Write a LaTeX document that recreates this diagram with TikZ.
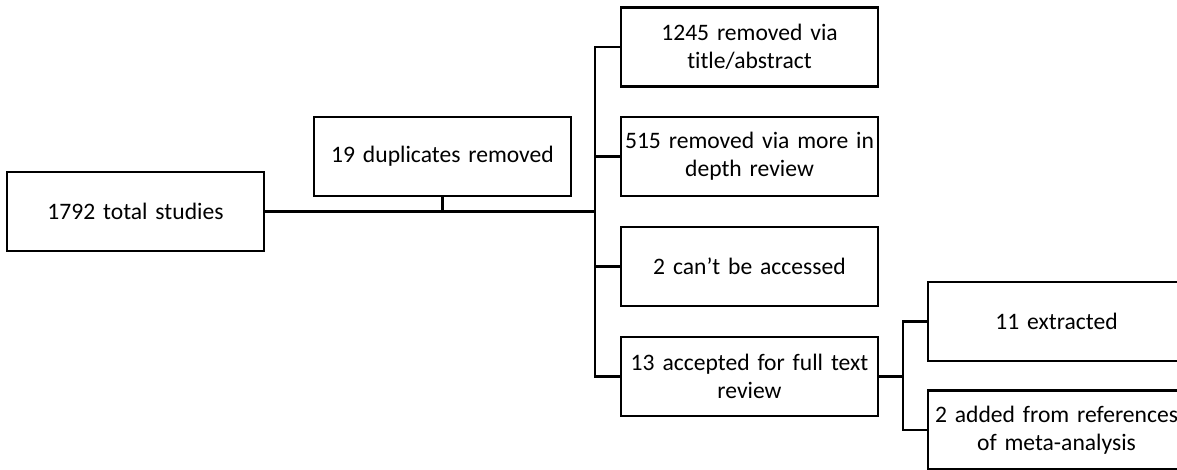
\documentclass[tikz,border=0pt]{standalone}
\usepackage{fontspec}
\setmainfont{Carlito}[RawFeature={-liga;-clig}]
\begin{document}
\begin{tikzpicture}[x=1pt,y=-1pt,
  box/.style={draw=black, line width=2.4pt, rectangle, minimum width=257pt, minimum height=79pt,
    inner sep=2pt, text width=250pt, align=center, font=\fontsize{23.6}{28}\selectfont},
  conn/.style={draw=black, line width=2.6pt}]
\useasboundingbox (0,0) rectangle (1177,470);
\clip (0,0) rectangle (1177,470);
\node[box] (total) at (135.5,211.5) {1792 total studies};
\node[box] (dup) at (442.5,156.5) {19 duplicates removed};
\node[box] (r1) at (749.5,47) {1245 removed via\\title/abstract};
\node[box] (r2) at (749.5,156.5) {515 removed via more in\\depth review};
\node[box] (r3) at (749.5,266.5) {2 can’t be accessed};
\node[box] (r4) at (749.5,376.5) {13 accepted for full text\\review};
\node[box] (e1) at (1056.5,321.5) {11 extracted};
\node[box] (e2) at (1056.5,430) {2 added from references\\of meta-analysis};
\coordinate (s1) at (595,211.5);
\coordinate (s2) at (903,376.5);
\draw[conn] (total.east) -- (s1);
\draw[conn] (dup.south) -- (dup.south |- s1);
\draw[conn] (r1.west) -| (s1 |- r1.west) -- (s1 |- r4.west) -- (r4.west);
\draw[conn] (s1 |- r2.west) -- (r2.west);
\draw[conn] (s1 |- r3.west) -- (r3.west);
\draw[conn] (r4.east) -- (s2);
\draw[conn] (e1.west) -- (s2 |- e1.west) -- (s2 |- e2.west) -- (e2.west);
\end{tikzpicture}
\end{document}
